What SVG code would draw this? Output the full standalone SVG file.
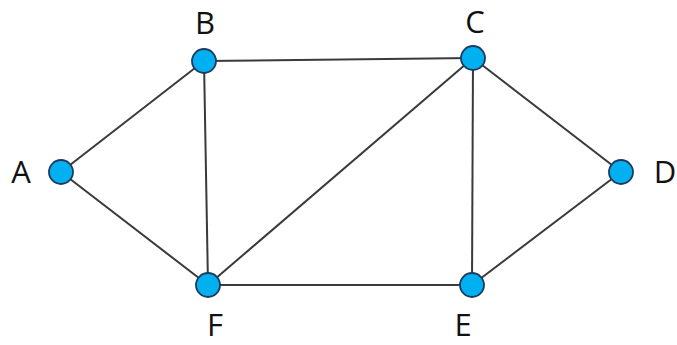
<svg xmlns="http://www.w3.org/2000/svg" width="677" height="345" viewBox="0 0 677 345">
<style>
.e{stroke:#3a3a3a;stroke-width:2;fill:none}
.n{fill:#00b0f0;stroke:#1f3a5f;stroke-width:1.8}
.t{font-family:"Open Sans","Liberation Sans",sans-serif;font-size:31px;fill:#111;text-anchor:middle}
</style>
<rect width="677" height="345" fill="#fff"/>
<g id="edges">
<line class="e" x1="61" y1="172" x2="204" y2="61"/>
<line class="e" x1="61" y1="172" x2="208" y2="285"/>
<line class="e" x1="204" y1="61" x2="473" y2="58"/>
<line class="e" x1="204" y1="61" x2="208" y2="285"/>
<line class="e" x1="473" y1="58" x2="208" y2="285"/>
<line class="e" x1="473" y1="58" x2="621" y2="172"/>
<line class="e" x1="473" y1="58" x2="472" y2="285"/>
<line class="e" x1="208" y1="285" x2="472" y2="285"/>
<line class="e" x1="472" y1="285" x2="621" y2="172"/>
</g>
<g id="A"><circle class="n" cx="61" cy="172" r="12"/><text class="t" x="21" y="183">A</text></g>
<g id="B"><circle class="n" cx="204" cy="61" r="12"/><text class="t" x="205" y="34">B</text></g>
<g id="C"><circle class="n" cx="473" cy="58" r="12"/><text class="t" x="475" y="33">C</text></g>
<g id="D"><circle class="n" cx="621" cy="172" r="12"/><text class="t" x="665" y="183">D</text></g>
<g id="F"><circle class="n" cx="208" cy="285" r="12"/><text class="t" x="215" y="336">F</text></g>
<g id="E"><circle class="n" cx="472" cy="285" r="12"/><text class="t" x="463" y="336">E</text></g>
</svg>
